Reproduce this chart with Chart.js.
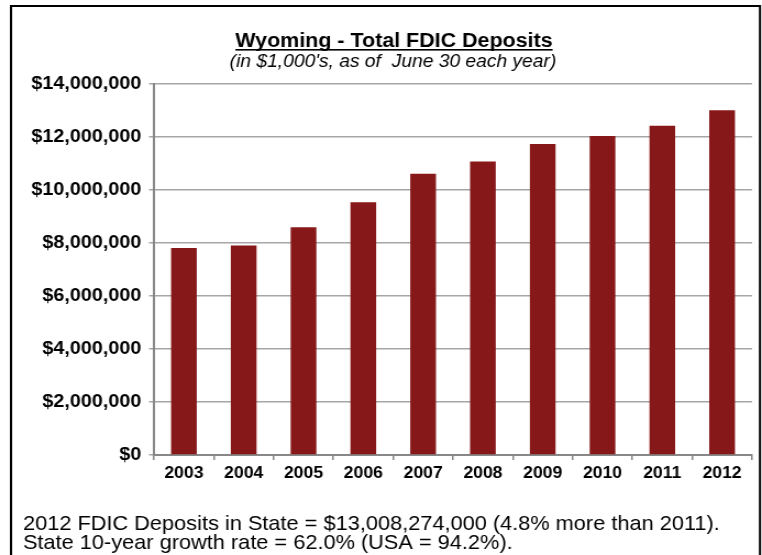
<!DOCTYPE html>
<html>
<head>
<meta charset="utf-8">
<script src="https://cdn.jsdelivr.net/npm/chart.js@4"></script>
<style>
  html, body { margin: 0; padding: 0; background: #fff; }
  /* the reference text is drawn a little wide, so the canvas is stretched sideways */
  #myChart { display: block; width: 762px !important; height: 555px !important; }
</style>
</head>
<body>
<canvas id="myChart" width="693" height="555"></canvas>
<script>
const years = ['2003', '2004', '2005', '2006', '2007', '2008', '2009', '2010', '2011', '2012'];
const deposits = [7810000, 7910000, 8590000, 9540000, 10610000, 11080000, 11740000, 12040000, 12420000, 13008274];
const yTicks = [0, 2000000, 4000000, 6000000, 8000000, 10000000, 12000000, 14000000];

const titleText = 'Wyoming - Total FDIC Deposits';
const subtitleText = "(in $1,000's, as of  June 30 each year)";
const noteLines = [
  '2012 FDIC Deposits in State = $13,008,274,000 (4.8% more than 2011).',
  'State 10-year growth rate = 62.0% (USA = 94.2%).',
];

const FONT = '"Liberation Sans", Arial, sans-serif';
const SX = 693 / 762; // page x -> canvas x

// frame, title and footnote
const decor = {
  id: 'decor',
  afterDraw(chart) {
    const c = chart.ctx;
    c.save();
    c.strokeStyle = '#000';
    c.lineWidth = 2;
    c.beginPath();
    c.moveTo(11 * SX, 560);
    c.lineTo(11 * SX, 6);
    c.lineTo(760 * SX, 6);
    c.lineTo(760 * SX, 560);
    c.stroke();

    c.fillStyle = '#000';
    c.textAlign = 'center';
    c.textBaseline = 'alphabetic';
    c.font = 'bold 19.5px ' + FONT;
    c.fillText(titleText, 394 * SX, 47);
    const w = c.measureText(titleText).width;
    c.fillRect(394 * SX - w / 2, 49, w, 1.6);

    c.font = 'italic 17.5px ' + FONT;
    c.fillText(subtitleText, 393 * SX, 67);

    c.textAlign = 'left';
    c.font = '19.8px ' + FONT;
    c.fillText(noteLines[0], 23 * SX, 530);
    c.fillText(noteLines[1], 23 * SX, 549);
    c.restore();
  },
};

new Chart(document.getElementById('myChart'), {
  type: 'bar',
  data: {
    labels: years,
    datasets: [
      {
        data: deposits,
        backgroundColor: '#87181a',
        borderWidth: 0,
        barPercentage: 0.43,
        categoryPercentage: 1,
      },
    ],
  },
  options: {
    responsive: false,
    animation: false,
    devicePixelRatio: 1,
    layout: { padding: { top: 84, right: 10 * SX, bottom: 70, left: 0 } },
    plugins: {
      legend: { display: false },
      tooltip: { enabled: false },
    },
    scales: {
      x: {
        afterFit(scale) { scale.height = 30; },
        grid: { offset: true, drawOnChartArea: false, drawTicks: true, tickLength: 5, color: '#888', lineWidth: 1.5 },
        border: { color: '#888', width: 2 },
        ticks: { color: '#000', padding: 4, font: { family: FONT, size: 16, weight: 'bold' } },
      },
      y: {
        min: 0,
        max: 14000000,
        afterFit(scale) { scale.width = 154 * SX; },
        afterBuildTicks(scale) { scale.ticks = yTicks.map(v => ({ value: v })); },
        grid: { color: '#a6a6a6', lineWidth: 1.5, tickLength: 4.5 },
        border: { color: '#888', width: 2 },
        ticks: {
          color: '#000',
          padding: 7,
          font: { family: FONT, size: 18, weight: 'bold' },
          callback: v => '$' + v.toLocaleString('en-US'),
        },
      },
    },
  },
  plugins: [decor],
});
</script>
</body>
</html>
